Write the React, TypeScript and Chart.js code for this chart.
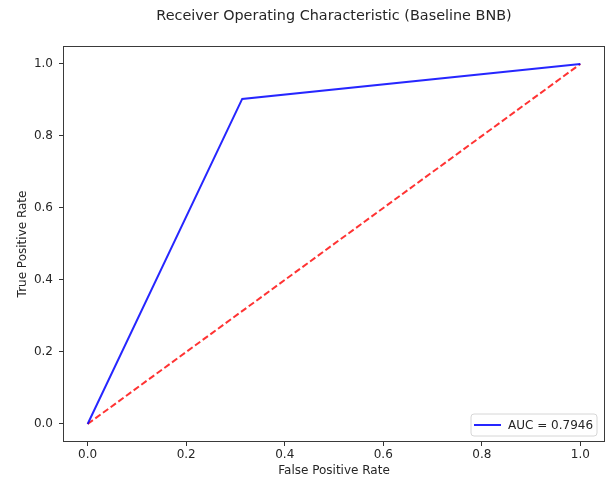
import React, { useEffect, useRef } from 'react';
import { Chart, registerables } from 'chart.js';

Chart.register(...registerables);

const TITLE = 'Receiver Operating Characteristic (Baseline BNB)';
const X_LABEL = 'False Positive Rate';
const Y_LABEL = 'True Positive Rate';
const AUC_LABEL = 'AUC = 0.7946';
const fpr = [0, 0.3137, 1];
const tpr = [0, 0.9029, 1];
const chanceX = [0, 1];
const chanceY = [0, 1];
const xTickValues = [0, 0.2, 0.4, 0.6, 0.8, 1.0];
const yTickValues = [0, 0.2, 0.4, 0.6, 0.8, 1.0];

const FONT = "'DejaVu Sans', sans-serif";
const TEXT = '#262626';
const BLUE = 'rgba(0,0,255,0.85)';
const RED = 'rgba(255,0,0,0.8)';

const framePlugin = {
  id: 'frameAndLegend',
  afterDatasetsDraw(chart: any) {
    const { ctx, chartArea } = chart;
    const { left, top, right, bottom } = chartArea;
    ctx.save();
    ctx.strokeStyle = '#3a3a3a';
    ctx.lineWidth = 1;
    ctx.strokeRect(Math.round(left) + 0.5, Math.round(top) + 0.5, Math.round(right - left) - 1, Math.round(bottom - top) - 1);

    // legend box (lower right)
    const bw = 126;
    const bh = 22;
    const bx = right - 8 - bw;
    const by = bottom - 6 - bh;
    const r = 3;
    ctx.beginPath();
    ctx.moveTo(bx + r, by);
    ctx.lineTo(bx + bw - r, by);
    ctx.quadraticCurveTo(bx + bw, by, bx + bw, by + r);
    ctx.lineTo(bx + bw, by + bh - r);
    ctx.quadraticCurveTo(bx + bw, by + bh, bx + bw - r, by + bh);
    ctx.lineTo(bx + r, by + bh);
    ctx.quadraticCurveTo(bx, by + bh, bx, by + bh - r);
    ctx.lineTo(bx, by + r);
    ctx.quadraticCurveTo(bx, by, bx + r, by);
    ctx.closePath();
    ctx.fillStyle = 'rgba(255,255,255,0.8)';
    ctx.fill();
    ctx.strokeStyle = '#d6d6d6';
    ctx.lineWidth = 1;
    ctx.stroke();

    const ly = Math.round(by + bh / 2);
    ctx.beginPath();
    ctx.moveTo(bx + 3, ly);
    ctx.lineTo(bx + 30, ly);
    ctx.strokeStyle = BLUE;
    ctx.lineWidth = 2;
    ctx.stroke();

    ctx.fillStyle = TEXT;
    ctx.font = `12px ${FONT}`;
    ctx.textAlign = 'left';
    ctx.textBaseline = 'middle';
    ctx.fillText(AUC_LABEL, bx + 37, by + bh / 2 + 0.5);
    ctx.restore();
  },
};

export default function App() {
  const ref = useRef<HTMLCanvasElement | null>(null);

  useEffect(() => {
    if (!ref.current) return;
    const chart = new Chart(ref.current, {
      type: 'scatter',
      data: {
        datasets: [
          {
            label: AUC_LABEL,
            data: fpr.map((x, i) => ({ x, y: tpr[i] })),
            showLine: true,
            borderColor: BLUE,
            backgroundColor: BLUE,
            borderWidth: 2,
            pointRadius: 0,
            tension: 0,
          },
          {
            label: 'chance',
            data: chanceX.map((x, i) => ({ x, y: chanceY[i] })),
            showLine: true,
            borderColor: RED,
            backgroundColor: RED,
            borderWidth: 2,
            borderDash: [6.5, 3],
            pointRadius: 0,
            tension: 0,
          },
        ],
      },
      options: {
        responsive: false,
        animation: false,
        devicePixelRatio: 1,
        layout: { padding: { left: 0, right: 4, top: 0, bottom: 0 } },
        plugins: {
          legend: { display: false },
          tooltip: { enabled: false },
          title: {
            display: true,
            text: TITLE,
            fullSize: false,
            color: TEXT,
            font: { family: FONT, size: 14.4, weight: 'normal', lineHeight: 1.2 },
            padding: { top: 8, bottom: 20.7 },
          },
        },
        scales: {
          x: {
            type: 'linear',
            min: -0.05,
            max: 1.05,
            afterBuildTicks: (scale: any) => {
              scale.ticks = xTickValues.map((v) => ({ value: v }));
            },
            afterFit: (scale: any) => {
              scale.height = 41;
            },
            ticks: {
              color: TEXT,
              font: { family: FONT, size: 12 },
              padding: 2,
              maxRotation: 0,
              callback: (v: any) => Number(v).toFixed(1),
            },
            grid: { drawOnChartArea: false, drawTicks: true, tickLength: 4, tickColor: '#333', tickWidth: 1 },
            border: { display: false },
            title: {
              display: true,
              text: X_LABEL,
              color: TEXT,
              font: { family: FONT, size: 12 },
              padding: { top: 0, bottom: 4.5 },
            },
          },
          y: {
            type: 'linear',
            min: -0.05,
            max: 1.05,
            afterBuildTicks: (scale: any) => {
              scale.ticks = yTickValues.map((v) => ({ value: v }));
            },
            afterFit: (scale: any) => {
              scale.width = 63;
            },
            ticks: {
              color: TEXT,
              font: { family: FONT, size: 12 },
              padding: 6,
              callback: (v: any) => Number(v).toFixed(1),
            },
            grid: { drawOnChartArea: false, drawTicks: true, tickLength: 4, tickColor: '#333', tickWidth: 1 },
            border: { display: false },
            title: {
              display: true,
              text: Y_LABEL,
              color: TEXT,
              font: { family: FONT, size: 12 },
              padding: { top: 15.5, bottom: 0 },
            },
          },
        },
      },
      plugins: [framePlugin],
    } as any);
    return () => chart.destroy();
  }, []);

  return (
    <div style={{ position: 'absolute', left: 0, top: 0, width: 609, height: 483, background: '#fff' }}>
      <canvas ref={ref} width={609} height={483} style={{ display: 'block' }} />
    </div>
  );
}
